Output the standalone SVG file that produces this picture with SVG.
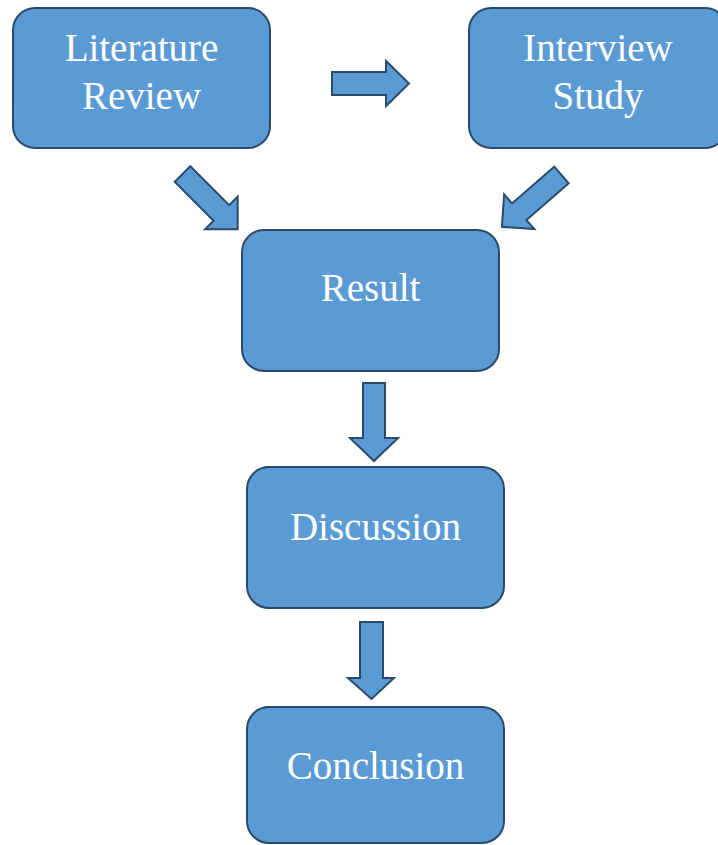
<svg xmlns="http://www.w3.org/2000/svg" width="718" height="845" viewBox="0 0 718 845">
<style>
.box{fill:#5B9BD5;stroke:#2B4A69;stroke-width:2}
.arr{fill:#5B9BD5;stroke:#2B4A69;stroke-width:2;stroke-linejoin:miter}
.lbl{font-family:"Liberation Serif","Times New Roman",serif;font-size:39px;fill:#FFFFFF;text-anchor:middle}
</style>
<rect width="718" height="845" fill="#FFFFFF"/>
<g id="connectors">
<polygon class="arr" points="332,72 386,72 386,61 409,83.5 386,106 386,95 332,95"/>
<g transform="translate(182.5,174) rotate(45)"><polygon class="arr" points="0,-11 55,-11 55,-23 78,0 55,23 55,11 0,11"/></g>
<g transform="translate(561.5,175) rotate(139)"><polygon class="arr" points="0,-11 56,-11 56,-23 79,0 56,23 56,11 0,11"/></g>
<polygon class="arr" points="363,383 385,383 385,438 398,438 374,461 350,438 363,438"/>
<polygon class="arr" points="360,622 383,622 383,678 394,678 371.5,699 348,678 360,678"/>
</g>
<g id="literature-review">
<rect class="box" x="13" y="8" width="257" height="140" rx="22"/>
<text class="lbl" x="141.5" y="61">Literature</text>
<text class="lbl" x="141.5" y="109">Review</text>
</g>
<g id="interview-study">
<rect class="box" x="469" y="8" width="258" height="140" rx="22"/>
<text class="lbl" x="598" y="61">Interview</text>
<text class="lbl" x="598" y="109">Study</text>
</g>
<g id="result">
<rect class="box" x="242" y="230" width="257" height="141" rx="22"/>
<text class="lbl" x="370.5" y="301">Result</text>
</g>
<g id="discussion">
<rect class="box" x="247" y="467" width="257" height="141" rx="22"/>
<text class="lbl" x="375.5" y="540">Discussion</text>
</g>
<g id="conclusion">
<rect class="box" x="247" y="707" width="257" height="136" rx="22"/>
<text class="lbl" x="375.5" y="779">Conclusion</text>
</g>
</svg>
